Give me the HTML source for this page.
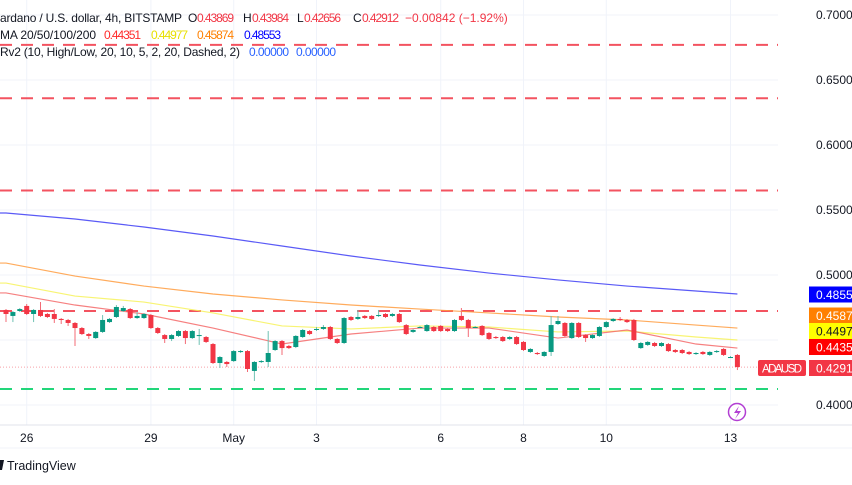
<!DOCTYPE html>
<html><head><meta charset="utf-8"><style>
body{margin:0;background:#fff;font-family:"Liberation Sans",sans-serif;}
#wrap{position:relative;width:852px;height:485px;overflow:hidden;}
svg{position:absolute;left:0;top:0;}
</style></head><body>
<div id="wrap">
<svg id="chart" width="852" height="485"></svg>
</div>
<script>
const opens=[.4731,.4685,.4723,.4762,.4700,.4731,.4700,.4700,.4662,.4654,
.4631,.4592,.4546,.4515,.4562,.4638,.4677,.4723,.4738,.4669,
.4669,.4692,.4592,.4538,.4508,.4531,.4569,.4515,.4531,.4523,
.4469,.4323,.4331,.4338,.4408,.4415,.4262,.4338,.4331,.4423,
.4492,.4454,.4446,.4523,.4569,.4577,.4585,.4600,.4508,.4477,
.4677,.4662,.4685,.4685,.4685,.4700,.4685,.4700,.4615,.4562,
.4600,.4569,.4600,.4608,.4585,.4569,.4685,.4654,.4600,.4608,
.4554,.4523,.4523,.4508,.4523,.4485,.4408,.4400,.4377,.4408,
.4623,.4631,.4515,.4631,.4538,.4515,.4531,.4600,.4646,.4662,
.4654,.4654,.4438,.4462,.4477,.4454,.4469,.4423,.4423,.4408,
.4392,.4408,.4385,.4408,.4431,.4369,.4385];
const closes=[.4700,.4715,.4738,.4700,.4731,.4685,.4677,.4662,.4654,.4631,
.4592,.4546,.4531,.4562,.4654,.4662,.4754,.4746,.4669,.4685,
.4700,.4592,.4554,.4508,.4538,.4569,.4515,.4569,.4538,.4485,
.4323,.4369,.4315,.4415,.4415,.4277,.4331,.4338,.4400,.4492,
.4438,.4438,.4531,.4577,.4546,.4585,.4600,.4508,.4477,.4669,
.4654,.4677,.4669,.4662,.4692,.4677,.4700,.4638,.4546,.4577,
.4600,.4615,.4569,.4569,.4569,.4654,.4654,.4592,.4600,.4538,
.4508,.4515,.4492,.4523,.4469,.4423,.4431,.4392,.4408,.4615,
.4646,.4531,.4631,.4523,.4515,.4538,.4600,.4638,.4662,.4654,
.4638,.4500,.4477,.4485,.4454,.4477,.4415,.4408,.4400,.4392,
.4400,.4392,.4408,.4415,.4385,.4369,.4292];
const highs=[.4738,.4723,.4746,.4777,.4738,.4792,.4708,.4738,.4669,.4662,
.4638,.4600,.4554,.4569,.4692,.4669,.4769,.4762,.4746,.4715,
.4708,.4700,.4600,.4546,.4546,.4577,.4577,.4577,.4585,.4531,
.4477,.4377,.4338,.4423,.4423,.4423,.4338,.4346,.4569,.4500,
.4500,.4462,.4538,.4585,.4577,.4600,.4615,.4608,.4515,.4677,
.4685,.4731,.4692,.4692,.4731,.4708,.4708,.4708,.4623,.4585,
.4608,.4623,.4608,.4615,.4592,.4662,.4746,.4662,.4608,.4615,
.4562,.4531,.4531,.4531,.4531,.4492,.4438,.4408,.4415,.4685,
.4685,.4638,.4638,.4638,.4546,.4546,.4608,.4646,.4669,.4677,
.4662,.4662,.4485,.4492,.4485,.4485,.4477,.4431,.4431,.4415,
.4408,.4415,.4415,.4423,.4438,.4377,.4392];
const lows=[.4638,.4638,.4715,.4692,.4638,.4677,.4669,.4631,.4623,.4608,
.4454,.4538,.4508,.4508,.4554,.4631,.4669,.4715,.4662,.4662,
.4662,.4585,.4546,.4477,.4492,.4523,.4469,.4508,.4462,.4477,
.4315,.4285,.4292,.4331,.4400,.4254,.4185,.4323,.4292,.4415,
.4385,.4431,.4438,.4515,.4538,.4569,.4577,.4500,.4469,.4469,
.4646,.4654,.4662,.4654,.4677,.4669,.4677,.4631,.4538,.4554,
.4592,.4562,.4562,.4562,.4562,.4562,.4646,.4523,.4592,.4531,
.4500,.4508,.4485,.4500,.4462,.4415,.4400,.4385,.4369,.4377,
.4615,.4523,.4508,.4515,.4485,.4508,.4523,.4592,.4638,.4646,
.4631,.4492,.4431,.4454,.4446,.4446,.4408,.4400,.4392,.4385,
.4385,.4385,.4377,.4400,.4377,.4362,.4269];
const maIdx=[0,10,20,30,40,50,60,70,80,90,100,106];
const ma20=[.4862,.4769,.4700,.4592,.4469,.4546,.4592,.4592,.4515,.4577,.4469,.4438];
const ma50=[.4938,.4838,.4792,.4708,.4608,.4585,.4608,.4600,.4562,.4569,.4523,.4500];
const ma100=[.5092,.4992,.4915,.4854,.4808,.4769,.4738,.4708,.4677,.4654,.4615,.4592];
const ma200=[.5477,.5431,.5369,.5300,.5223,.5146,.5077,.5015,.4962,.4915,.4877,.4854];
const priceTicks=[0.70,0.65,0.60,0.55,0.50,0.45,0.40];
const priceTickLabels=["0.7000","0.6500","0.6000","0.5500","0.5000","","0.4000"];
const dateLabels=["26","29","May","3","6","8","10","13"];
const dateBars=[3,21,33,45,63,75,87,105];
const redLevels=[0.6770,0.6360,0.5650,0.4723];
const greenLevels=[0.4123];
const lastPrice=0.42912;

const S=document.getElementById('chart');
const NS='http://www.w3.org/2000/svg';
const PW=778;
function y(p){return 15+(0.70-p)*1300;}
function x(i){return 6+i*6.9;}
function mk(tag,attrs,name,parent){const e=document.createElementNS(NS,tag);for(const k in attrs)e.setAttribute(k,attrs[k]);


(parent||S).appendChild(e);return e;}
function txt(t,attrs,name){const e=mk('text',attrs,name);e.textContent=t;return e;}

priceTicks.forEach((p,i)=>{mk('line',{x1:0,x2:PW,y1:y(p),y2:y(p),stroke:'#f0f3fa','stroke-width':1},'h-grid-line');});
dateBars.forEach(b=>{mk('line',{x1:x(b),x2:x(b),y1:0,y2:425,stroke:'#f0f3fa','stroke-width':1},'v-grid-line');});
redLevels.forEach(p=>{mk('line',{x1:0,x2:PW,y1:y(p),y2:y(p),stroke:'#f23645','stroke-width':2,'stroke-dasharray':'12 9',opacity:0.85},'resistance-level');});
greenLevels.forEach(p=>{mk('line',{x1:0,x2:PW,y1:y(p),y2:y(p),stroke:'#22d67a','stroke-width':2,'stroke-dasharray':'12 9'},'support-level');});
mk('line',{x1:0,x2:PW,y1:y(lastPrice),y2:y(lastPrice),stroke:'#f7a1a8','stroke-width':1,'stroke-dasharray':'1 2'},'last-price-line');
function maLine(arr,color,name){let pts=arr.map((v,i)=>x(maIdx[i])+','+y(v));pts.unshift('0,'+y(arr[0]));
mk('polyline',{points:pts.join(' '),fill:'none',stroke:color,'stroke-width':1.2,opacity:0.85},name);}
maLine(ma200,'#3d3df5','ma200-line');
maLine(ma100,'#ff9c40','ma100-line');
maLine(ma50,'#f7f25a','ma50-line');
maLine(ma20,'#f56a6a','ma20-line');
for(let i=0;i<opens.length;i++){
  const up=closes[i]>=opens[i];const col=up?'#089981':'#f23645';
  const g=mk('g',{},'candle');
  mk('line',{x1:x(i),x2:x(i),y1:y(highs[i]),y2:y(lows[i]),stroke:up?'#6fc2b3':'#f36b76','stroke-width':1},'candle-wick',g);
  const top=y(Math.max(opens[i],closes[i])),bot=y(Math.min(opens[i],closes[i]));
  mk('rect',{x:x(i)-2.5,y:top,width:5,height:Math.max(1,bot-top),fill:col},'candle-body',g);
}
mk('line',{x1:0,x2:852,y1:425,y2:425,stroke:'#e0e3eb','stroke-width':1},'time-axis-border');
mk('line',{x1:0,x2:852,y1:448,y2:448,stroke:'#f0f3fa','stroke-width':1},'footer-separator');
priceTicks.forEach((p,i)=>{if(priceTickLabels[i])txt(priceTickLabels[i],{x:816,y:y(p)+4,'font-size':12,fill:'#131722'},'price-tick-label');});
dateBars.forEach((b,i)=>{txt(dateLabels[i],{x:x(b),y:442,'font-size':12,fill:'#131722','text-anchor':'middle'},'date-tick-label');});
function tag(cy,label,bg,fg){mk('rect',{x:809,y:cy-8,width:45,height:16,fill:bg},'price-tag-bg');
txt(label,{x:816,y:cy+4.5,'font-size':12,fill:fg},'price-tag-label');}
tag(294.5,'0.4855','#0000ff','#fff');
tag(315.5,'0.4587','#ff8000','#fff');
tag(331,'0.4497','#ffff00','#131722');
tag(347,'0.4435','#ff0000','#fff');
tag(368,'0.4291','#f23645','#fff');
mk('rect',{x:758,y:360,width:48,height:16,fill:'#f23645',rx:2},'symbol-tag-bg');
txt('ADAUSD',{x:762,y:372.5,'font-size':11.5,fill:'#fff',textLength:40},'symbol-tag-label');
mk('circle',{cx:737,cy:412,r:8.5,fill:'#fff',stroke:'#b23fd3','stroke-width':1.5},'events-icon');
mk('path',{d:'M739 406 L734 413 L738 413 L735 419 L741 411 L737 411 Z',fill:'#b23fd3'},'events-bolt');
function legend(yy,parts,name){const t=mk('text',{y:yy,'font-size':12},name);parts.forEach(([s,c,xx,w])=>{const sp=document.createElementNS(NS,'tspan');sp.setAttribute('fill',c);sp.setAttribute('x',xx);if(w)sp.setAttribute('textLength',w);sp.textContent=s;t.appendChild(sp);});}
legend(22,[['ardano / U.S. dollar, 4h, BITSTAMP','#131722',0,182],['O','#131722',188],['0.43869','#f23645',197,37],['H','#131722',243],['0.43984','#f23645',252,37],['L','#131722',297],['0.42656','#f23645',304,37],['C','#131722',353],['0.42912','#f23645',362,37],['−0.00842 (−1.92%)','#f23645',405]],'symbol-legend');
legend(39,[['MA 20/50/100/200','#131722',0,96],['0.44351','#ff2a2a',104,37],['0.44977','#e8e000',151,37],['0.45874','#ff8000',197,37],['0.48553','#0000ff',244,37]],'ma-legend');
legend(56,[['Rv2 (10, High/Low, 20, 10, 5, 2, 20, Dashed, 2)','#131722',0,240],['0.00000','#2962ff',249,40],['0.00000','#2962ff',296,40]],'indicator-legend');
mk('path',{d:'M0 460 L4 460 L2 470 L-2 470 Z',fill:'#131722'},'tradingview-logo');
txt('TradingView',{x:7,y:470,'font-size':12.5,fill:'#131722'},'tradingview-brand');
</script>
</body></html>
